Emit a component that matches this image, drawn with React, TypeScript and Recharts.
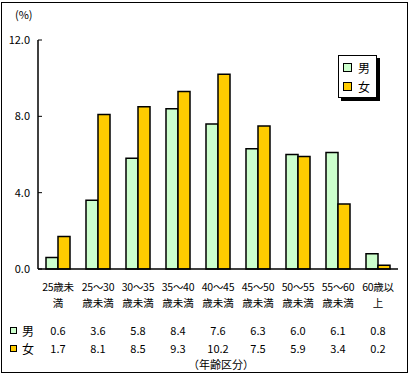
// 年齢区分別の構成比（男女）— bar chart with data table underneath
import React from "react";
import { Bar, BarChart, Legend, XAxis, YAxis } from "recharts";

const FONT = '"Noto Sans CJK JP", "Noto Sans", sans-serif';
const GREEN = "#CCFFCC";
const YELLOW = "#FFCC00";

const AGE_LINE1 = ["25歳未", "25～30", "30～35", "35～40", "40～45", "45～50", "50～55", "55～60", "60歳以"];
const AGE_LINE2 = ["満", "歳未満", "歳未満", "歳未満", "歳未満", "歳未満", "歳未満", "歳未満", "上"];
const MALE = [0.6, 3.6, 5.8, 8.4, 7.6, 6.3, 6.0, 6.1, 0.8];
const FEMALE = [1.7, 8.1, 8.5, 9.3, 10.2, 7.5, 5.9, 3.4, 0.2];
const SERIES = ["男", "女"];
const Y_TICKS = [0, 4, 8, 12];

const rows = AGE_LINE1.map((l1, i) => ({ key: l1 + AGE_LINE2[i], male: MALE[i], female: FEMALE[i] }));

// category label (2 lines) + table values, stacked under each category
function AgeTick(props: any) {
  const { x, y, payload } = props;
  const i = payload.index;
  const t = { textAnchor: "middle" as const, fill: "#000", fontFamily: FONT, dominantBaseline: "central" as const };
  return (
    <g>
      <text x={x} y={y + 17} fontSize={10.5} letterSpacing={-0.3} {...t}>{AGE_LINE1[i]}</text>
      <text x={x} y={y + 33} fontSize={10.5} {...t}>{AGE_LINE2[i]}</text>
      <text x={x} y={y + 61} fontSize={11} {...t}>{MALE[i].toFixed(1)}</text>
      <text x={x} y={y + 79} fontSize={11} {...t}>{FEMALE[i].toFixed(1)}</text>
    </g>
  );
}

function LegendBox({ payload }: any) {
  const items = [...(payload || [])].sort((a: any, b: any) => SERIES.indexOf(a.value) - SERIES.indexOf(b.value));
  return (
    <div style={{
      position: "absolute", left: 338, top: 55,
      width: 39, height: 43, border: "1px solid #000", background: "#fff",
      boxShadow: "3px 3px 0 #000", boxSizing: "border-box", padding: "2px 0 0 4px",
    }}>
      {items.map((p: any) => (
        <div key={p.value} style={{ display: "flex", alignItems: "center", height: 19, fontSize: 12, fontFamily: FONT }}>
          <span style={{ width: 7, height: 7, border: "1px solid #000", background: p.color, marginRight: 6 }} />
          {p.value}
        </div>
      ))}
    </div>
  );
}

function RowHead({ color, label, top }: { color: string; label: string; top: number }) {
  return (
    <div style={{ position: "absolute", left: 10, top, display: "flex", alignItems: "center", fontSize: 12, fontFamily: FONT, height: 16 }}>
      <span style={{ width: 5, height: 5, border: "1px solid #000", background: color, marginRight: 5 }} />
      {label}
    </div>
  );
}

export default function App() {
  return (
    <div style={{ position: "relative", width: 413, height: 377, background: "#fff", fontFamily: FONT }}>
      <style>{"body{margin:0}"}</style>
      <div style={{ position: "absolute", left: 1, top: 2, width: 407, height: 371, border: "1px solid #000", boxSizing: "border-box" }} />
      <div style={{ position: "absolute", left: 15, top: 6, fontSize: 11 }}>(%)</div>
      <BarChart
        width={413} height={377} data={rows}
        margin={{ top: 40, right: 15, left: 8, bottom: 0 }}
        barSize={12} barGap={0}
      >
        <XAxis
          dataKey="key" height={108} interval={0}
          axisLine={{ stroke: "#000", strokeWidth: 1.5 }} tickLine={false}
          tickSize={0} tickMargin={0} tick={<AgeTick />}
        />
        <XAxis xAxisId="top" dataKey="key" orientation="top" height={0}
          axisLine={{ stroke: "#000", strokeWidth: 1.5 }} tick={false} tickLine={false} />
        <YAxis
          domain={[0, 12]} ticks={Y_TICKS} width={30} interval={0}
          tickFormatter={(v: number) => v.toFixed(1)}
          axisLine={{ stroke: "#000", strokeWidth: 1.5 }}
          tickLine={{ stroke: "#000" }} tickSize={-4} tickMargin={12}
          tick={{ fontSize: 11, fill: "#000", fontFamily: FONT }}
        />
        <YAxis yAxisId="right" orientation="right" width={0}
          axisLine={{ stroke: "#000", strokeWidth: 1.5 }} tick={false} tickLine={false} />
        <Legend
          layout="horizontal" verticalAlign="middle" align="center"
          wrapperStyle={{ left: 0, top: 0, width: 0, height: 0 }}
          content={<LegendBox />}
        />
        <Bar dataKey="male" name="男" fill={GREEN} stroke="#000" strokeWidth={1.5} isAnimationActive={false} />
        <Bar dataKey="female" name="女" fill={YELLOW} stroke="#000" strokeWidth={1.5} isAnimationActive={false} />
      </BarChart>
      <RowHead color={GREEN} label="男" top={322} />
      <RowHead color={YELLOW} label="女" top={340} />
      <div style={{ position: "absolute", left: 188, top: 356, fontSize: 11 }}>（年齢区分）</div>
    </div>
  );
}
